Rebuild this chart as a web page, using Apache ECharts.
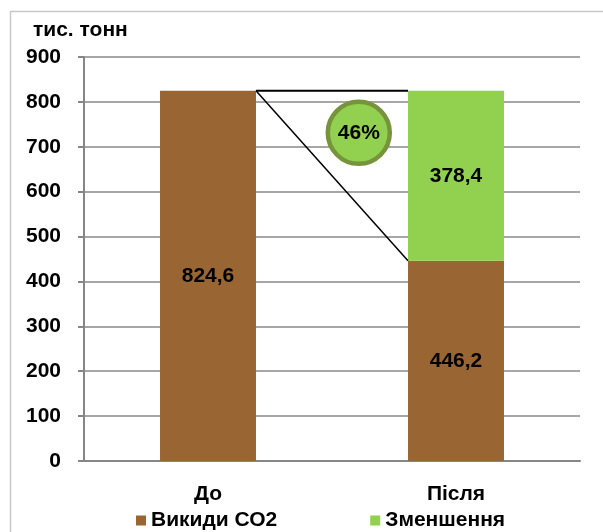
<!DOCTYPE html>
<html>
<head>
<meta charset="utf-8">
<script src="https://cdn.jsdelivr.net/npm/echarts@6/dist/echarts.min.js"></script>
<style>
  html, body { margin: 0; padding: 0; background: #fff; }
  #chart { width: 603px; height: 532px; }
</style>
</head>
<body>
<div id="chart"></div>
<script>
// Categories and values (thousand tonnes of CO2)
const categories = ['До', 'Після'];
const emissions = [824.6, 446.2];
const reduction = ['-', 378.4];
const yTicks = { min: 0, max: 900, step: 100 };
const seriesNames = ['Викиди СО2', 'Зменшення'];
const unitLabel = 'тис. тонн';
// where the percentage badge sits: fraction between the two categories, and value height
const badgePos = [0.608, 731];

const BROWN = '#996633';
const GREEN = '#92D050';
const FONT = '"Liberation Sans", Arial, sans-serif';
const BAR_FRACTION = 0.387;

const fmt = v => String(v).replace('.', ',');
const pct = Math.round(reduction[1] / emissions[0] * 100) + '%';

const chart = echarts.init(document.getElementById('chart'), null, { renderer: 'canvas' });

chart.setOption({
  animation: false,
  backgroundColor: '#fff',
  textStyle: { fontFamily: FONT },
  title: {
    text: unitLabel,
    left: 28, top: 15,
    textStyle: { fontFamily: FONT, fontWeight: 'bold', fontSize: 21, color: '#000' }
  },
  graphic: [{
    type: 'rect', z: -1,
    shape: { x: 10.5, y: 11.5, width: 620, height: 560 },
    style: { fill: 'none', stroke: '#c8c8c8', lineWidth: 1.5 }
  }],
  grid: { left: 84, right: 23, top: 57, bottom: 71 },
  legend: {
    left: 131, top: 505,
    itemWidth: 10, itemHeight: 10, itemGap: 93,
    icon: 'rect',
    textStyle: { fontFamily: FONT, fontWeight: 'bold', fontSize: 21, color: '#000' },
    data: seriesNames
  },
  xAxis: {
    type: 'category',
    data: categories,
    axisLine: { lineStyle: { color: '#868686', width: 2 } },
    axisTick: { show: false },
    axisLabel: { margin: 23, fontFamily: FONT, fontWeight: 'bold', fontSize: 21, color: '#000' }
  },
  yAxis: {
    type: 'value',
    min: yTicks.min, max: yTicks.max, interval: yTicks.step,
    axisLine: { show: true, lineStyle: { color: '#868686', width: 2 } },
    axisTick: { show: true, length: 6, lineStyle: { color: '#868686', width: 2 } },
    splitLine: { lineStyle: { color: '#a6a6a6', width: 2 } },
    axisLabel: { margin: 23, fontFamily: FONT, fontWeight: 'bold', fontSize: 21, color: '#000' }
  },
  series: [
    {
      name: seriesNames[0], type: 'bar', stack: 'total',
      barWidth: (BAR_FRACTION * 100) + '%',
      itemStyle: { color: BROWN },
      label: {
        show: true, position: 'inside', formatter: p => fmt(p.value),
        fontFamily: FONT, fontWeight: 'bold', fontSize: 21, color: '#000'
      },
      data: emissions
    },
    {
      name: seriesNames[1], type: 'bar', stack: 'total',
      itemStyle: { color: GREEN },
      label: {
        show: true, position: 'inside', formatter: p => fmt(p.value),
        fontFamily: FONT, fontWeight: 'bold', fontSize: 21, color: '#000'
      },
      data: reduction
    },
    {
      // triangle connecting the two bars and the percentage badge
      type: 'custom', z: 5, silent: true,
      data: [[0]],
      renderItem: (params, api) => {
        const band = api.size([1, 0])[0];
        const half = band * BAR_FRACTION / 2;
        const top0 = api.coord([0, emissions[0]]);
        const top1 = api.coord([1, emissions[1] + reduction[1]]);
        const low1 = api.coord([1, emissions[1]]);
        const x0 = top0[0] + half;
        const x1 = low1[0] - half;
        const bx = top0[0] + (low1[0] - top0[0]) * badgePos[0];
        const by = api.coord([0, badgePos[1]])[1];
        return {
          type: 'group',
          children: [
            { type: 'line', shape: { x1: x0, y1: top0[1], x2: x1, y2: top1[1] },
              style: { stroke: '#000', lineWidth: 2 } },
            { type: 'line', shape: { x1: x0, y1: top0[1], x2: x1, y2: low1[1] },
              style: { stroke: '#000', lineWidth: 1.5 } },
            { type: 'circle', shape: { cx: bx, cy: by, r: 31 },
              style: { fill: GREEN, stroke: '#77933C', lineWidth: 4.5 } },
            { type: 'text', x: bx, y: by,
              style: { text: pct, align: 'center', verticalAlign: 'middle',
                       font: 'bold 21px ' + FONT, fill: '#000' } }
          ]
        };
      }
    }
  ]
});
</script>
</body>
</html>
